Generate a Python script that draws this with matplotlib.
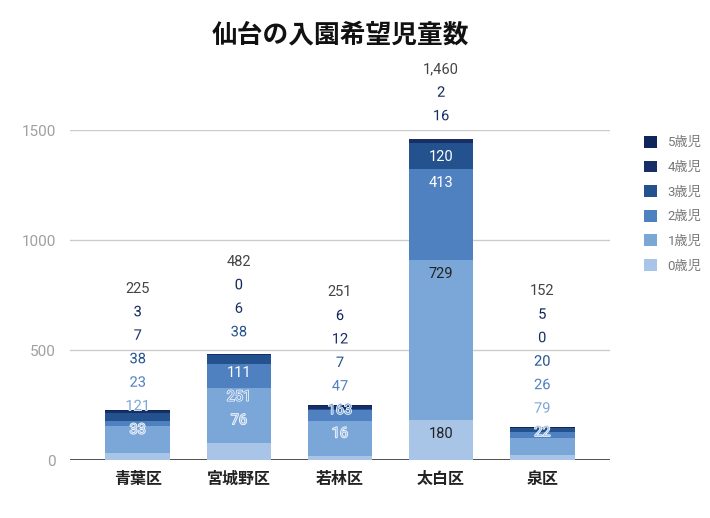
import matplotlib
matplotlib.use("Agg")
import matplotlib.pyplot as plt
import matplotlib.patheffects as pe
import numpy as np

plt.rcParams['font.family'] = ['Roboto', 'Noto Sans CJK JP', 'DejaVu Sans']

wards = ["青葉区", "宮城野区", "若林区", "太白区", "泉区"]
ages = ["0歳児", "1歳児", "2歳児", "3歳児", "4歳児", "5歳児"]
age0 = [33, 76, 16, 180, 22]
age1 = [121, 251, 163, 729, 79]
age2 = [23, 111, 47, 413, 26]
age3 = [38, 38, 7, 120, 20]
age4 = [7, 6, 12, 16, 0]
age5 = [3, 0, 6, 2, 5]
series = [age0, age1, age2, age3, age4, age5]

colors = ["#a8c4e6", "#7ba6d8", "#4f80c0", "#23528f", "#172f66", "#10255a"]
# colour of a label that sits inside its own segment
inside_text = ["#222222", "#222222", "#ffffff", "#ffffff", "#ffffff", "#ffffff"]

W, H = 710, 518
fig = plt.figure(figsize=(W / 100, H / 100), dpi=100)
ax = fig.add_axes([70 / W, 1 - 460 / H, 540 / W, 330 / H])

x = np.arange(len(wards))
bw = 0.64
bottom = np.zeros(len(wards))
for vals, col, name in zip(series, colors, ages):
    ax.bar(x, vals, bw, bottom=bottom, color=col, label=name, zorder=3)
    bottom += np.array(vals)
totals = bottom

ax.set_xlim(-0.67, 4.67)
ax.set_ylim(0, 1500)
ax.set_yticks([0, 500, 1000, 1500])
ax.set_yticklabels(["0", "500", "1000", "1500"])
ax.yaxis.grid(True, color="#cccccc", linewidth=1, zorder=0)
ax.axhline(0, color="#333333", linewidth=1.2, zorder=2)
for s in ax.spines.values():
    s.set_visible(False)
ax.tick_params(axis="y", length=0, pad=10, labelsize=11, labelcolor="#a0a0a0")
ax.tick_params(axis="x", length=0, pad=8)
ax.set_xticks(x)
ax.set_xticklabels(wards, fontsize=11.5, fontweight="bold", color="#222222",
                   family=["Noto Sans CJK JP"])

fig.text(340 / W, 1 - 35 / H, "仙台の入園希望児童数", ha="center", va="center",
         fontsize=18.5, fontweight="bold", color="#111111",
         family=["Noto Sans CJK JP"])

# label layout: work in pixels (y down), then convert back to data
px_per_unit = 330 / 1500.0
def to_px(v):
    return 460 - v * px_per_unit
def to_data(p):
    return (460 - p) / px_per_unit

gap = 23.5
for i in range(len(wards)):
    cum = 0
    prefs = []
    for k, vals in enumerate(series):
        v = vals[i]
        top = to_px(cum + v)
        fits = v * px_per_unit >= 20
        prefs.append((top + 14 if fits else top - 23, fits, k, v))
        cum += v
    prefs.append((to_px(totals[i]) - 23, False, -1, int(totals[i])))
    prev = None
    for pref, fits, k, v in prefs:
        pos = pref if prev is None else min(pref, prev - gap)
        prev = pos
        txt = "{:,}".format(v)
        if k == -1:
            ax.text(x[i], to_data(pos), txt, ha="center", va="center",
                    fontsize=10.5, color="#444444", zorder=5, clip_on=False)
        elif fits and pref - pos < 4.8:
            ax.text(x[i], to_data(pos), txt, ha="center", va="center",
                    fontsize=10.5, color=inside_text[k], zorder=5, clip_on=False)
        else:
            ax.text(x[i], to_data(pos), txt, ha="center", va="center",
                    fontsize=10.5, color=colors[k], zorder=5, clip_on=False,
                    path_effects=[pe.withStroke(linewidth=1.0, foreground="white")])

handles, labels = ax.get_legend_handles_labels()
leg = fig.legend(handles[::-1], labels[::-1], loc="upper left",
                 bbox_to_anchor=(632 / W, 1 - 124 / H), frameon=False,
                 fontsize=9.5, labelcolor="#777777", handlelength=1.0,
                 handleheight=1.0, handletextpad=0.8, labelspacing=0.85)

fig.savefig("out.png", dpi=100)
